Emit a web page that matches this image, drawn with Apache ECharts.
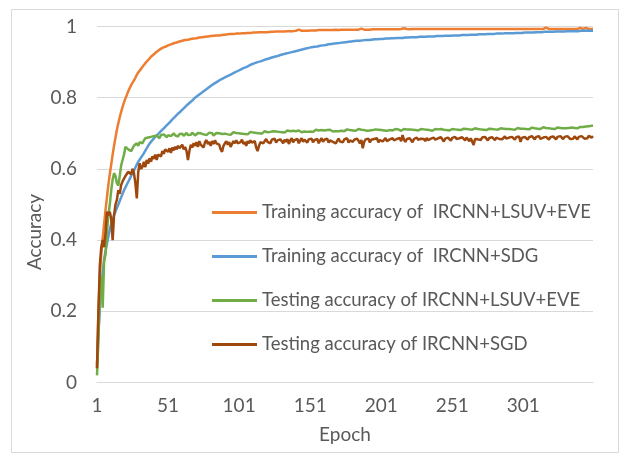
<!DOCTYPE html>
<html>
<head>
<meta charset="utf-8">
<script src="https://cdn.jsdelivr.net/npm/echarts@6/dist/echarts.min.js"></script>
<style>
  html, body { margin: 0; padding: 0; background: #fff; }
  #chart { width: 621px; height: 453px; }
</style>
</head>
<body>
<div id="chart"></div>
<script>
// epochs 1..350
var epochs = [];
for (var i = 1; i <= 350; i++) epochs.push(String(i));

var seriesNames = [
    'Training accuracy of  IRCNN+LSUV+EVE',
    'Training accuracy of  IRCNN+SDG',
    'Testing accuracy of IRCNN+LSUV+EVE',
    'Testing accuracy of IRCNN+SGD'
];

var yTicks = [0, 0.2, 0.4, 0.6, 0.8, 1];

var trainLsuv = [
    .04,.2,.3,.36,.405,.445,.485,.52,.555,.585,
    .612,.64,.665,.688,.71,.728,.745,.76,.774,.787,
    .798,.808,.818,.827,.835,.842,.849,.856,.864,.871,
    .876,.881,.887,.892,.897,.901,.906,.911,.915,.918,
    .922,.925,.929,.932,.935,.937,.94,.941,.943,.945,
    .947,.948,.95,.952,.953,.954,.955,.957,.958,.959,
    .96,.961,.962,.962,.963,.964,.965,.965,.966,.967,
    .967,.968,.969,.969,.97,.97,.971,.972,.972,.972,
    .973,.973,.974,.974,.975,.975,.975,.976,.976,.977,
    .977,.977,.978,.978,.979,.979,.979,.98,.98,.98,
    .98,.981,.981,.981,.981,.982,.982,.982,.982,.983,
    .983,.983,.983,.983,.984,.984,.984,.984,.984,.985,
    .984,.985,.985,.985,.985,.985,.986,.986,.986,.986,
    .986,.987,.986,.987,.987,.987,.987,.988,.987,.988,
    .988,.99,.991,.988,.988,.988,.988,.989,.988,.989,
    .989,.989,.989,.989,.989,.989,.99,.989,.99,.99,
    .99,.99,.99,.99,.99,.99,.99,.99,.991,.99,
    .99,.991,.991,.991,.991,.991,.991,.991,.991,.991,
    .991,.991,.991,.991,.991,.993,.994,.991,.991,.991,
    .991,.992,.991,.992,.992,.992,.992,.992,.992,.992,
    .992,.992,.992,.992,.992,.992,.992,.992,.992,.992,
    .992,.992,.992,.992,.993,.993,.995,.996,.993,.992,
    .992,.992,.993,.993,.993,.993,.993,.993,.993,.993,
    .993,.993,.993,.993,.993,.993,.993,.993,.993,.993,
    .993,.993,.993,.993,.993,.993,.993,.993,.993,.993,
    .993,.993,.993,.993,.993,.993,.993,.993,.993,.993,
    .993,.993,.993,.993,.993,.993,.993,.993,.993,.993,
    .993,.993,.993,.993,.993,.993,.993,.993,.993,.993,
    .993,.993,.993,.993,.993,.993,.993,.993,.993,.993,
    .993,.993,.993,.993,.993,.993,.993,.993,.993,.993,
    .993,.993,.993,.993,.993,.993,.993,.993,.993,.993,
    .993,.993,.993,.993,.993,.993,.997,.993,.993,.993,
    .993,.993,.993,.993,.993,.993,.993,.993,.993,.993,
    .993,.993,.993,.993,.993,.993,.993,.993,.993,.993,
    .996,.993,.993,.993,.996,.993,.993,.993,.993,.993
];

var trainSdg = [
    .05,.14,.21,.27,.31,.345,.37,.39,.41,.43,
    .445,.458,.47,.48,.49,.5,.51,.52,.53,.54,
    .548,.556,.564,.572,.58,.588,.596,.604,.612,.62,
    .626,.632,.638,.644,.651,.658,.665,.671,.676,.681,
    .685,.69,.694,.698,.702,.706,.71,.714,.718,.722,
    .726,.73,.735,.739,.743,.747,.751,.755,.758,.762,
    .766,.77,.774,.778,.782,.785,.789,.792,.796,.8,
    .803,.806,.809,.812,.815,.818,.821,.824,.827,.83,
    .833,.836,.838,.841,.843,.846,.848,.851,.853,.855,
    .857,.859,.861,.863,.865,.867,.869,.871,.873,.875,
    .877,.879,.881,.883,.885,.886,.888,.89,.892,.894,
    .895,.897,.898,.9,.901,.902,.904,.905,.906,.908,
    .909,.91,.911,.913,.914,.915,.916,.917,.918,.92,
    .921,.922,.923,.924,.925,.926,.927,.928,.929,.93,
    .931,.932,.933,.934,.935,.936,.937,.938,.939,.94,
    .941,.942,.942,.943,.944,.944,.945,.946,.946,.947,
    .948,.948,.949,.95,.95,.951,.951,.952,.953,.953,
    .954,.954,.955,.955,.956,.956,.957,.957,.958,.958,
    .959,.959,.959,.96,.96,.96,.961,.961,.961,.962,
    .962,.962,.963,.963,.963,.964,.964,.964,.965,.965,
    .965,.965,.966,.966,.966,.966,.967,.967,.967,.967,
    .967,.968,.968,.968,.968,.968,.969,.969,.969,.969,
    .969,.97,.97,.97,.97,.97,.97,.971,.971,.971,
    .971,.971,.971,.972,.972,.972,.972,.972,.972,.973,
    .973,.973,.973,.973,.973,.974,.974,.974,.974,.974,
    .975,.975,.975,.975,.975,.975,.976,.976,.976,.976,
    .976,.976,.977,.977,.977,.977,.977,.977,.978,.978,
    .978,.978,.978,.978,.979,.979,.979,.979,.979,.979,
    .98,.98,.98,.98,.98,.98,.98,.981,.981,.981,
    .981,.981,.981,.981,.982,.982,.982,.982,.982,.982,
    .982,.983,.983,.983,.983,.983,.983,.983,.984,.984,
    .984,.984,.984,.984,.984,.985,.985,.985,.985,.985,
    .985,.985,.985,.986,.986,.986,.986,.986,.986,.986,
    .986,.987,.987,.987,.987,.987,.987,.987,.987,.987,
    .988,.988,.988,.988,.988,.988,.988,.988,.988,.988
];

var testLsuv = [
    .02,.12,.25,.3,.21,.34,.36,.42,.47,.5,
    .54,.57,.588,.58,.56,.553,.58,.61,.625,.64,
    .662,.66,.655,.66,.65,.655,.665,.668,.672,.665,
    .675,.68,.672,.68,.686,.682,.688,.684,.69,.686,
    .692,.688,.694,.69,.686,.695,.69,.697,.692,.689,
    .695,.699,.692,.696,.7,.694,.697,.691,.698,.695,
    .699,.693,.697,.701,.695,.699,.696,.702,.697,.694,
    .698,.701,.696,.7,.703,.697,.699,.695,.7,.702,
    .697,.7,.694,.698,.701,.696,.7,.703,.698,.695,
    .699,.702,.697,.7,.696,.699,.703,.698,.701,.697,
    .7,.696,.699,.702,.698,.701,.697,.7,.704,.699,
    .702,.698,.701,.705,.7,.703,.699,.702,.706,.701,
    .703,.7,.704,.701,.706,.702,.705,.701,.704,.707,
    .703,.706,.702,.705,.708,.703,.706,.704,.707,.703,
    .706,.704,.708,.705,.703,.707,.705,.709,.704,.707,
    .705,.708,.704,.707,.71,.706,.708,.705,.709,.706,
    .708,.705,.709,.706,.71,.707,.705,.709,.706,.708,
    .706,.709,.707,.71,.706,.708,.711,.707,.709,.706,
    .708,.711,.707,.709,.712,.708,.71,.707,.709,.711,
    .707,.71,.708,.712,.709,.707,.711,.708,.71,.707,
    .709,.712,.708,.71,.707,.711,.709,.712,.708,.71,
    .712,.708,.711,.709,.707,.71,.712,.708,.711,.709,
    .711,.708,.71,.713,.709,.711,.708,.71,.712,.709,
    .711,.708,.71,.712,.709,.711,.707,.71,.712,.709,
    .711,.709,.712,.708,.71,.713,.709,.711,.708,.71,
    .712,.709,.711,.714,.71,.712,.709,.711,.713,.71,
    .712,.709,.711,.708,.71,.712,.714,.71,.712,.709,
    .711,.714,.71,.712,.709,.711,.713,.71,.712,.715,
    .711,.713,.71,.712,.714,.711,.713,.71,.712,.715,
    .712,.714,.711,.713,.71,.712,.715,.711,.713,.71,
    .713,.715,.712,.714,.711,.713,.716,.712,.714,.711,
    .713,.716,.712,.714,.717,.713,.715,.712,.714,.716,
    .713,.715,.712,.714,.716,.713,.715,.717,.714,.716,
    .714,.717,.715,.713,.716,.718,.715,.717,.714,.716,
    .718,.716,.718,.717,.719,.717,.72,.718,.721,.722
];

var testSgd = [
    .04,.2,.33,.38,.4,.38,.42,.48,.47,.48,
    .46,.4,.47,.5,.513,.54,.53,.555,.565,.57,
    .58,.578,.592,.597,.585,.6,.588,.56,.517,.59,
    .616,.6,.606,.62,.605,.625,.615,.63,.62,.635,
    .628,.64,.625,.64,.645,.635,.65,.642,.655,.653,
    .648,.658,.645,.66,.652,.662,.655,.665,.658,.662,
    .668,.655,.662,.65,.625,.65,.668,.66,.672,.665,
    .675,.662,.678,.668,.672,.66,.675,.681,.67,.676,
    .665,.678,.67,.68,.672,.676,.668,.655,.648,.665,
    .672,.678,.668,.675,.662,.67,.678,.672,.68,.672,
    .668,.675,.682,.67,.676,.665,.678,.672,.68,.674,
    .67,.678,.66,.65,.665,.675,.68,.672,.678,.684,
    .676,.68,.672,.682,.678,.685,.674,.68,.676,.683,
    .678,.672,.682,.676,.684,.67,.68,.686,.675,.681,
    .677,.684,.672,.68,.686,.676,.682,.678,.674,.683,
    .679,.685,.675,.681,.678,.684,.672,.68,.686,.676,
    .682,.678,.685,.674,.68,.684,.676,.681,.672,.679,
    .685,.677,.682,.675,.683,.679,.686,.674,.68,.684,
    .676,.682,.678,.685,.679,.672,.681,.658,.676,.683,
    .679,.685,.674,.682,.677,.684,.679,.686,.675,.681,
    .684,.677,.682,.687,.678,.674,.683,.679,.686,.68,
    .676,.684,.68,.687,.678,.695,.682,.676,.684,.679,
    .686,.681,.675,.684,.679,.688,.682,.677,.685,.68,
    .684,.678,.687,.681,.676,.685,.68,.688,.682,.678,
    .686,.681,.689,.683,.677,.685,.68,.688,.684,.679,
    .687,.682,.69,.684,.679,.686,.682,.689,.684,.68,
    .688,.683,.678,.686,.682,.667,.684,.689,.683,.687,
    .681,.688,.684,.69,.685,.68,.687,.683,.689,.685,
    .681,.688,.692,.684,.689,.683,.687,.691,.685,.68,
    .688,.684,.69,.686,.682,.689,.685,.691,.676,.687,
    .684,.69,.686,.682,.689,.685,.692,.687,.683,.69,
    .686,.692,.684,.679,.688,.684,.69,.686,.682,.689,
    .685,.691,.687,.683,.69,.686,.692,.688,.684,.69,
    .686,.692,.688,.684,.689,.685,.691,.687,.683,.69,
    .687,.692,.688,.685,.69,.686,.693,.689,.688,.692
];

var colors = ['#ED7D31', '#5B9BD5', '#70AD47', '#9E480E'];
var allData = [trainLsuv, trainSdg, testLsuv, testSgd];

var textColor = '#595959';
var fontName = 'Lato';

var series = [];
for (var s = 0; s < allData.length; s++) {
    series.push({
        name: seriesNames[s],
        type: 'line',
        data: allData[s],
        symbol: 'none',
        lineStyle: { color: colors[s], width: 2.5 },
        itemStyle: { color: colors[s] }
    });
}

var chart = echarts.init(document.getElementById('chart'));
var option = {
    animation: false,
    backgroundColor: '#fff',
    textStyle: { fontFamily: fontName },
    grid: { left: 97, right: 28, top: 26.5, bottom: 70.5 },
    legend: {
        orient: 'vertical',
        left: 207,
        top: 198,
        itemWidth: 45,
        itemHeight: 3,
        itemGap: 25,
        icon: 'rect',
        data: seriesNames,
        textStyle: { color: textColor, fontSize: 18.5, fontFamily: fontName }
    },
    xAxis: {
        type: 'category',
        data: epochs,
        boundaryGap: false,
        name: 'Epoch',
        nameLocation: 'middle',
        nameGap: 43,
        nameTextStyle: { color: textColor, fontSize: 19, fontFamily: fontName },
        axisLine: { show: true, lineStyle: { color: '#d9d9d9', width: 1 } },
        axisTick: { show: false },
        axisLabel: { interval: 49, color: textColor, fontSize: 19, margin: 14, fontFamily: fontName },
        splitLine: { show: false }
    },
    yAxis: {
        type: 'value',
        min: yTicks[0],
        max: yTicks[yTicks.length - 1],
        interval: 0.2,
        axisLine: { show: false },
        axisTick: { show: false },
        axisLabel: { color: textColor, fontSize: 19, margin: 20, fontFamily: fontName },
        splitLine: { lineStyle: { color: '#d9d9d9', width: 1 } }
    },
    graphic: [
        {
            type: 'rect',
            left: 9, top: 7,
            shape: { width: 607, height: 443 },
            style: { fill: 'none', stroke: '#d9d9d9', lineWidth: 1 },
            silent: true
        },
        {
            type: 'text',
            x: 35, y: 232,
            rotation: Math.PI / 2,
            style: {
                text: 'Accuracy',
                fill: textColor,
                font: '19px ' + fontName,
                textAlign: 'center',
                textVerticalAlign: 'middle'
            }
        }
    ],
    series: series
};
chart.setOption(option);
</script>
</body>
</html>
